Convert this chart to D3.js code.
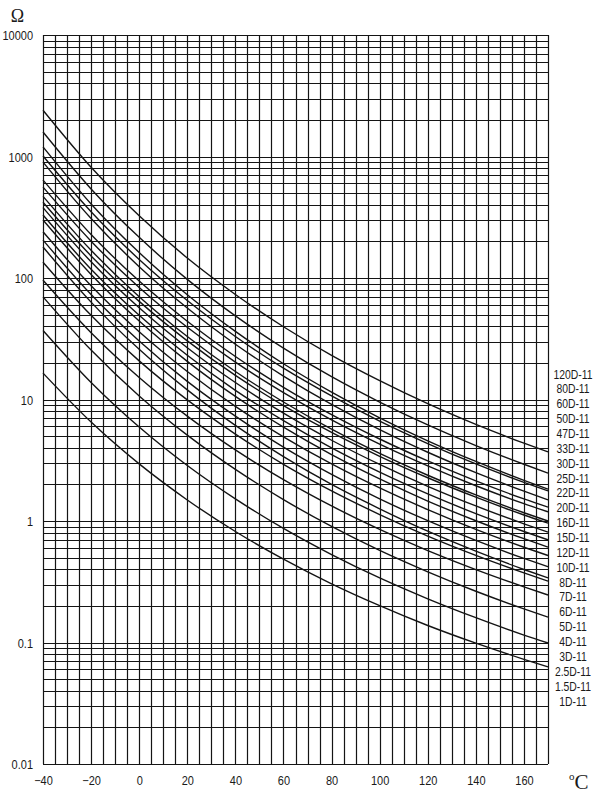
<!DOCTYPE html>
<html>
<head>
<meta charset="utf-8">
<script src="https://cdn.jsdelivr.net/npm/d3@7/dist/d3.min.js"></script>
<style>
  html, body { margin: 0; padding: 0; background: #fff; }
  svg { display: block; }
  .tick-label { font-family: "Liberation Sans", Arial, sans-serif; font-size: 12.5px; fill: #1a1a1a; }
  .series-label { font-family: "Liberation Sans", Arial, sans-serif; font-size: 12.5px; fill: #1a1a1a; }
  .unit { font-family: "Liberation Serif", "DejaVu Serif", serif; fill: #1a1a1a; }
</style>
</head>
<body>
<svg id="chart" width="599" height="797"></svg>
<script>
// ---- data ----
const temps = [-40, -20, 0, 20, 40, 60, 80, 100, 120, 140, 160, 170];

const r01 = [2400, 815, 325, 146, 73.2, 39.7, 23.1, 14.3, 9.23, 6.23, 4.37, 3.70];
const r02 = [1590, 541, 216, 97.5, 48.8, 26.5, 15.4, 9.53, 6.18, 4.18, 2.93, 2.48];
const r03 = [1200, 407, 162, 72.9, 36.4, 19.7, 11.5, 7.07, 4.57, 3.09, 2.16, 1.83];
const r04 = [1010, 351, 142, 65.2, 33.0, 18.1, 10.7, 6.64, 4.34, 2.95, 2.08, 1.77];
const r05 = [900, 309, 124, 56.6, 28.5, 15.6, 9.12, 5.65, 3.68, 2.50, 1.76, 1.49];
const r06 = [640, 228, 94.3, 44.0, 22.6, 12.6, 7.51, 4.73, 3.12, 2.14, 1.52, 1.30];
const r07 = [560, 201, 83.6, 39.3, 20.3, 11.4, 6.79, 4.29, 2.84, 1.95, 1.39, 1.19];
const r08 = [470, 169, 70.2, 33.0, 17.0, 9.54, 5.70, 3.60, 2.38, 1.64, 1.17, 1.00];
const r09 = [420, 152, 64.2, 30.4, 15.8, 8.92, 5.36, 3.41, 2.27, 1.57, 1.12, 0.96];
const r10 = [380, 136, 56.8, 26.7, 13.8, 7.72, 4.62, 2.92, 1.93, 1.33, 0.948, 0.81];
const r11 = [330, 118, 49.3, 23.1, 11.9, 6.69, 3.99, 2.52, 1.67, 1.15, 0.820, 0.70];
const r12 = [300, 107, 44.2, 20.6, 10.6, 5.92, 3.52, 2.22, 1.46, 1.005, 0.715, 0.61];
const r13 = [240, 86.3, 36.1, 17.0, 8.79, 4.93, 2.95, 1.87, 1.24, 0.852, 0.608, 0.52];
const r14 = [205, 73.1, 30.3, 14.1, 7.29, 4.06, 2.42, 1.52, 1.006, 0.692, 0.492, 0.42];
const r15 = [180, 63.3, 25.9, 12.0, 6.12, 3.39, 2.00, 1.26, 0.824, 0.564, 0.399, 0.34];
const r16 = [135, 49.3, 20.8, 9.92, 5.19, 2.93, 1.77, 1.13, 0.751, 0.521, 0.374, 0.32];
const r17 = [96, 35.5, 15.2, 7.30, 3.85, 2.19, 1.33, 0.852, 0.571, 0.398, 0.287, 0.246];
const r18 = [70, 25.5, 10.7, 5.09, 2.66, 1.50, 0.902, 0.573, 0.382, 0.264, 0.189, 0.162];
const r19 = [37, 13.8, 5.93, 2.86, 1.52, 0.868, 0.529, 0.340, 0.229, 0.160, 0.115, 0.099];
const r20 = [16.5, 6.52, 2.95, 1.49, 0.820, 0.485, 0.304, 0.201, 0.138, 0.0987, 0.0727, 0.063];

const seriesValues = [r01, r02, r03, r04, r05, r06, r07, r08, r09, r10,
                      r11, r12, r13, r14, r15, r16, r17, r18, r19, r20];

const seriesLabels = ["120D-11", "80D-11", "60D-11", "50D-11", "47D-11", "33D-11",
  "30D-11", "25D-11", "22D-11", "20D-11", "16D-11", "15D-11", "12D-11", "10D-11",
  "8D-11", "7D-11", "6D-11", "5D-11", "4D-11", "3D-11", "2.5D-11", "1.5D-11", "1D-11"];

const xTickValues = [-40, -20, 0, 20, 40, 60, 80, 100, 120, 140, 160];
const yTickValues = [0.01, 0.1, 1, 10, 100, 1000, 10000];
const yTickLabels = ["0.01", "0.1", "1", "10", "100", "1000", "10000"];
const xDomain = [-40, 170];
const yDomain = [0.01, 10000];
const xGridStep = 5;
const yUnit = "Ω";

// ---- layout ----
const svg = d3.select("#chart");
const mLeft = 43, mRight = 548, mTop = 35, mBottom = 764;
const ink = "#141414";
const narrow = "scale(0.88,1)";

const x = d3.scaleLinear().domain(xDomain).range([mLeft, mRight]);
const y = d3.scaleLog().domain(yDomain).range([mBottom, mTop]);

// horizontal grid (1..9 x each decade)
const hGrid = [];
for (let e = -2; e <= 3; e++) {
  for (let k = 1; k <= 9; k++) hGrid.push(k * Math.pow(10, e));
}
hGrid.push(10000);

svg.append("g").selectAll("line").data(hGrid).join("line")
  .attr("x1", mLeft).attr("x2", mRight)
  .attr("y1", d => Math.round(y(d)) + 0.5).attr("y2", d => Math.round(y(d)) + 0.5)
  .attr("stroke", ink).attr("stroke-width", 1.2);

// vertical grid every 5 degrees
const vGrid = d3.range(xDomain[0], xDomain[1] + 0.001, xGridStep);
svg.append("g").selectAll("line").data(vGrid).join("line")
  .attr("x1", d => Math.round(x(d)) + 0.5).attr("x2", d => Math.round(x(d)) + 0.5)
  .attr("y1", mTop).attr("y2", mBottom)
  .attr("stroke", ink).attr("stroke-width", 1.2);

// axes tick labels using d3 axes (tick lines hidden)
const xAxis = d3.axisBottom(x).tickValues(xTickValues).tickSize(0).tickPadding(0).tickFormat(d3.format("d"));
const gx = svg.append("g").attr("transform", `translate(0,${mBottom + 12})`).call(xAxis);
gx.select(".domain").remove();
gx.selectAll("text").attr("class", "tick-label").attr("dy", "0.71em").attr("y", 0)
  .attr("transform", narrow);

const yAxis = d3.axisLeft(y).tickValues(yTickValues).tickSize(0).tickPadding(0)
  .tickFormat((d, i) => yTickLabels[i]);
const gy = svg.append("g").attr("transform", `translate(${mLeft - 10},0)`).call(yAxis);
gy.select(".domain").remove();
gy.selectAll("text").attr("class", "tick-label").attr("dy", "0.36em")
  .attr("transform", narrow);

// curves
const line = d3.line()
  .x((d, i) => x(temps[i]))
  .y(d => y(d))
  .curve(d3.curveMonotoneX);

svg.append("g").selectAll("path").data(seriesValues).join("path")
  .attr("d", d => line(d))
  .attr("fill", "none")
  .attr("stroke", ink)
  .attr("stroke-width", 1.4);

// series labels list at the right
const labelTop = 374, labelBottom = 701;
const labelStep = (labelBottom - labelTop) / (seriesLabels.length - 1);
svg.append("g").selectAll("text").data(seriesLabels).join("text")
  .attr("class", "series-label")
  .attr("transform", (d, i) => `translate(573,${labelTop + i * labelStep}) scale(0.83,1)`)
  .attr("dy", "0.36em")
  .attr("text-anchor", "middle")
  .text(d => d);

// unit labels
svg.append("text").attr("class", "unit")
  .attr("x", 17.5).attr("y", 21.5).attr("text-anchor", "middle")
  .attr("font-size", 18).text(yUnit);

const cUnit = svg.append("text").attr("class", "unit")
  .attr("x", 569).attr("y", 789).attr("font-size", 21);
cUnit.append("tspan").attr("font-size", 11).attr("dy", -9).text("o");
cUnit.append("tspan").attr("dy", 9).text("C");
</script>
</body>
</html>
